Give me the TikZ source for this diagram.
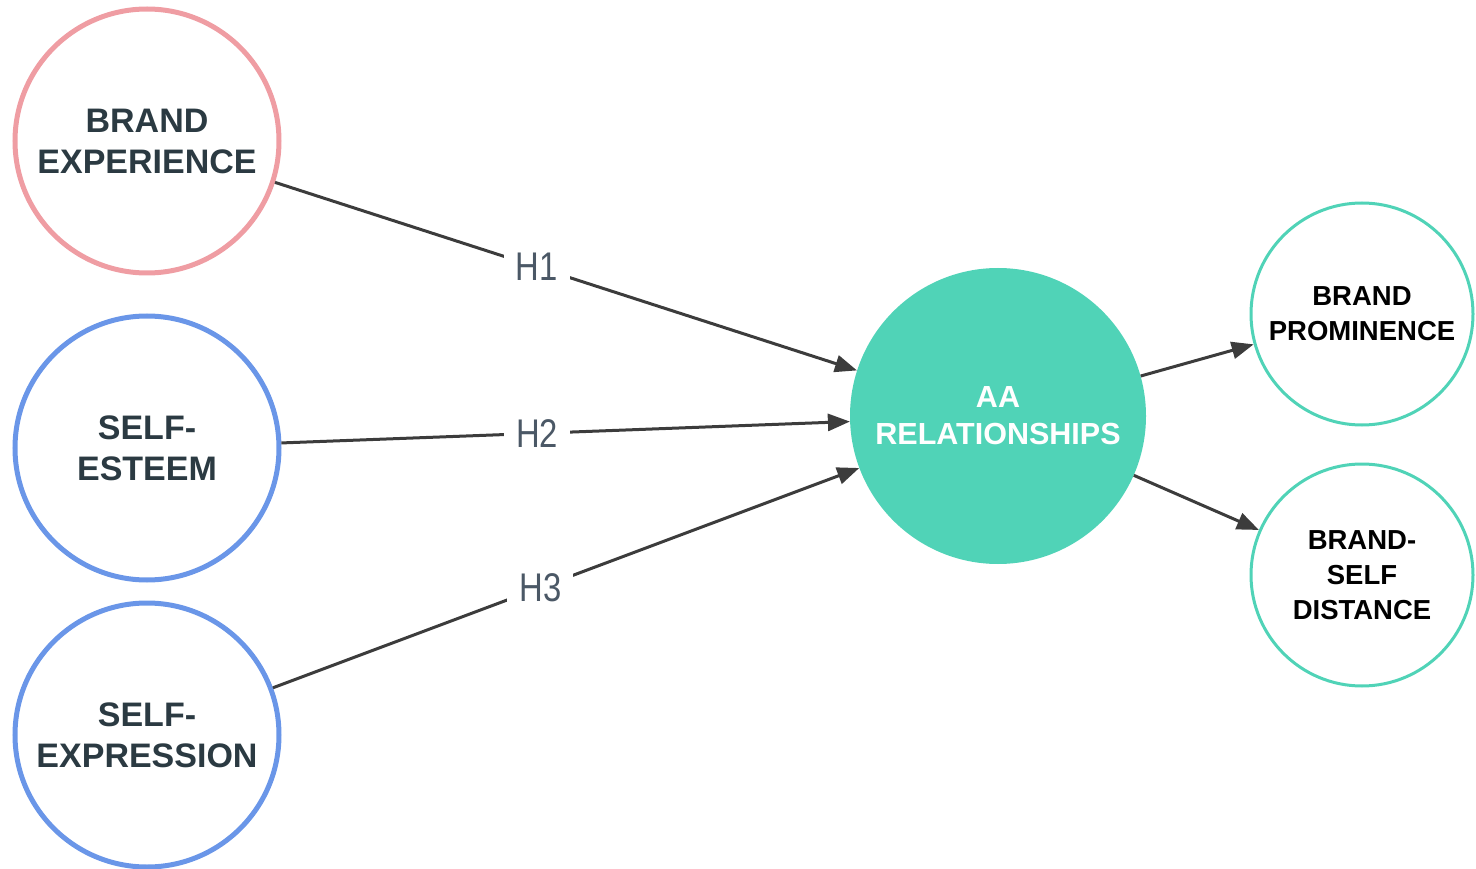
\documentclass[tikz,border=0pt]{standalone}
\usepackage{fontspec}
\setmainfont{Liberation Sans}
\usetikzlibrary{arrows.meta}
\definecolor{pinkc}{HTML}{EF9DA3}
\definecolor{bluec}{HTML}{6A96E8}
\definecolor{tealc}{HTML}{50D3B7}
\definecolor{txtc}{HTML}{2B3A42}
\definecolor{arrc}{HTML}{3C3C3C}
\definecolor{hc}{HTML}{4B5866}
\tikzset{
  bigcirc/.style={circle, line width=5pt, minimum size=264pt, inner sep=0pt, align=center, text=txtc,
    font=\fontsize{34}{41}\selectfont\bfseries},
  smallcirc/.style={circle, draw=tealc, line width=3pt, minimum size=222pt, inner sep=0pt, align=center, text=black,
    font=\fontsize{27.5}{35}\selectfont\bfseries},
  hub/.style={circle, fill=tealc, minimum size=296pt, inner sep=0pt, align=center, text=white,
    font=\fontsize{30.5}{37}\selectfont\bfseries},
  conn/.style={draw=arrc, line width=3pt, -{Triangle[length=22pt,width=17pt]}},
  hlab/.style={fill=white, inner xsep=12pt, inner ysep=4pt, text=hc, font=\fontsize{40}{44}\selectfont}
}
\begin{document}
\begin{tikzpicture}[x=1pt,y=-1pt]
\useasboundingbox (0,0) rectangle (1476,869);
\node[bigcirc, draw=pinkc] (be) at (147,141) {BRAND\\EXPERIENCE};
\node[bigcirc, draw=bluec] (se) at (147,448) {SELF-\\ESTEEM};
\node[bigcirc, draw=bluec] (sx) at (147,735) {SELF-\\EXPRESSION};
\node[hub] (aa) at (998,416) {AA\\RELATIONSHIPS};
\node[smallcirc] (bp) at (1362,314) {BRAND\\PROMINENCE};
\node[smallcirc] (bd) at (1362,575) {BRAND-\\SELF\\DISTANCE};
\draw[conn] (be) -- node[hlab, pos=0.45] (h1) {\scalebox{0.82}[1]{H1}} (aa);
\draw[conn] (se) -- node[hlab, pos=0.45] (h2) {\scalebox{0.82}[1]{H2}} (aa);
\draw[conn] (sx) -- node[hlab, pos=0.456] (h3) {\scalebox{0.82}[1]{H3}} (aa);
\draw[conn] (aa) -- (bp);
\draw[conn] (aa) -- (bd);
\end{tikzpicture}
\end{document}
